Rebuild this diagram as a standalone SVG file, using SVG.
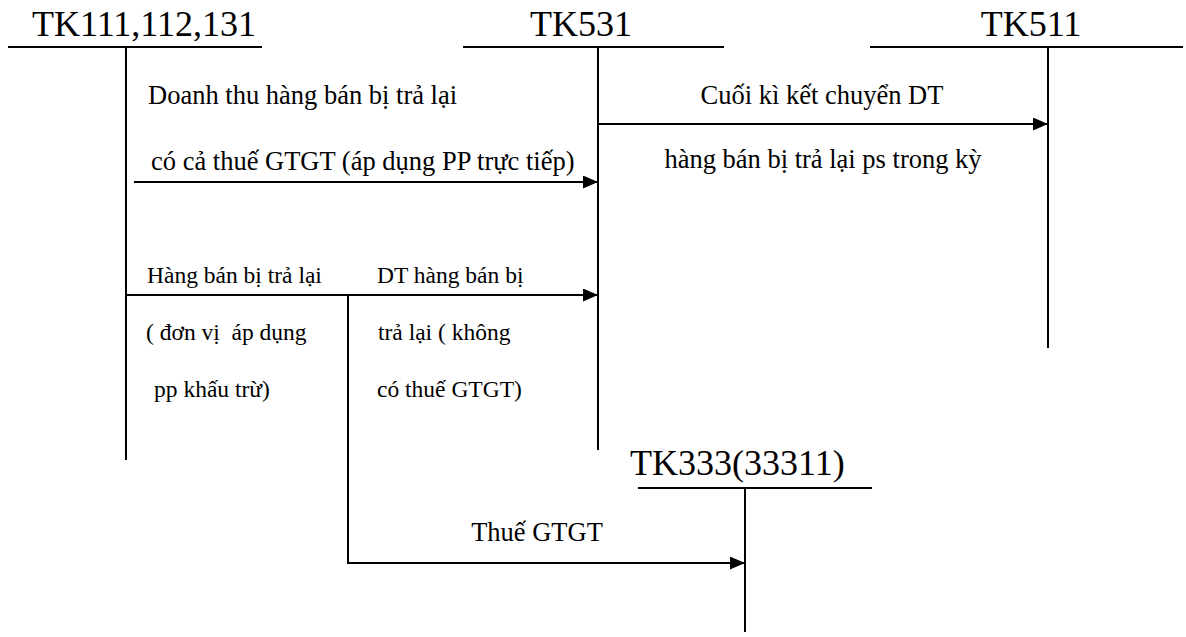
<svg xmlns="http://www.w3.org/2000/svg" width="1186" height="637" viewBox="0 0 1186 637">
<style>
.ln{stroke:#000;stroke-width:2;fill:none}
.h{font-family:"Liberation Serif",serif;font-size:36px;fill:#000}
.t{font-family:"Liberation Serif",serif;font-size:26.5px;fill:#000}
.s{font-family:"Liberation Serif",serif;font-size:23.5px;fill:#000}
</style>
<defs>
<marker id="ah" viewBox="0 0 15 13" refX="15" refY="6.5" markerWidth="15" markerHeight="13" markerUnits="userSpaceOnUse" orient="auto"><path d="M0,0L15,6.5L0,13z" fill="#000"/></marker>
</defs>
<rect width="1186" height="637" fill="#fff"/>
<g id="tk111">
<text class="h" x="32" y="36">TK111,112,131</text>
<line class="ln" x1="8" y1="47" x2="262" y2="47"/>
<line class="ln" x1="126" y1="47" x2="126" y2="460"/>
</g>
<g id="tk531">
<text class="h" x="581" y="36" text-anchor="middle">TK531</text>
<line class="ln" x1="463" y1="47" x2="724" y2="47"/>
<line class="ln" x1="598" y1="47" x2="598" y2="450"/>
</g>
<g id="tk511">
<text class="h" x="1031" y="36" text-anchor="middle">TK511</text>
<line class="ln" x1="870" y1="47" x2="1183" y2="47"/>
<line class="ln" x1="1048" y1="47" x2="1048" y2="348"/>
</g>
<g id="tk333">
<text class="h" x="630" y="475">TK333(33311)</text>
<line class="ln" x1="638" y1="488" x2="872" y2="488"/>
<line class="ln" x1="745" y1="488" x2="745" y2="632"/>
</g>
<g id="connectors">
<line class="ln" x1="134" y1="182" x2="598" y2="182" marker-end="url(#ah)"/>
<line class="ln" x1="598" y1="124" x2="1048" y2="124" marker-end="url(#ah)"/>
<line class="ln" x1="126" y1="295" x2="598" y2="295" marker-end="url(#ah)"/>
<polyline class="ln" points="348,295 348,563 745,563" marker-end="url(#ah)"/>
</g>
<g id="labels">
<text class="t" x="148" y="104">Doanh thu hàng bán bị trả lại</text>
<text class="t" x="151" y="170">có cả thuế GTGT (áp dụng PP trực tiếp)</text>
<text class="t" x="822" y="104" text-anchor="middle">Cuối kì kết chuyển DT</text>
<text class="t" x="823" y="168" text-anchor="middle">hàng bán bị trả lại ps trong kỳ</text>
<text class="s" x="147" y="283">Hàng bán bị trả lại</text>
<text class="s" x="377" y="283">DT hàng bán bị</text>
<text class="s" x="146" y="340" xml:space="preserve">( đơn vị  áp dụng</text>
<text class="s" x="154" y="397">pp khấu trừ)</text>
<text class="s" x="378" y="340">trả lại ( không</text>
<text class="s" x="377" y="397">có thuế GTGT)</text>
<text class="t" x="537" y="541" text-anchor="middle">Thuế GTGT</text>
</g>
</svg>
